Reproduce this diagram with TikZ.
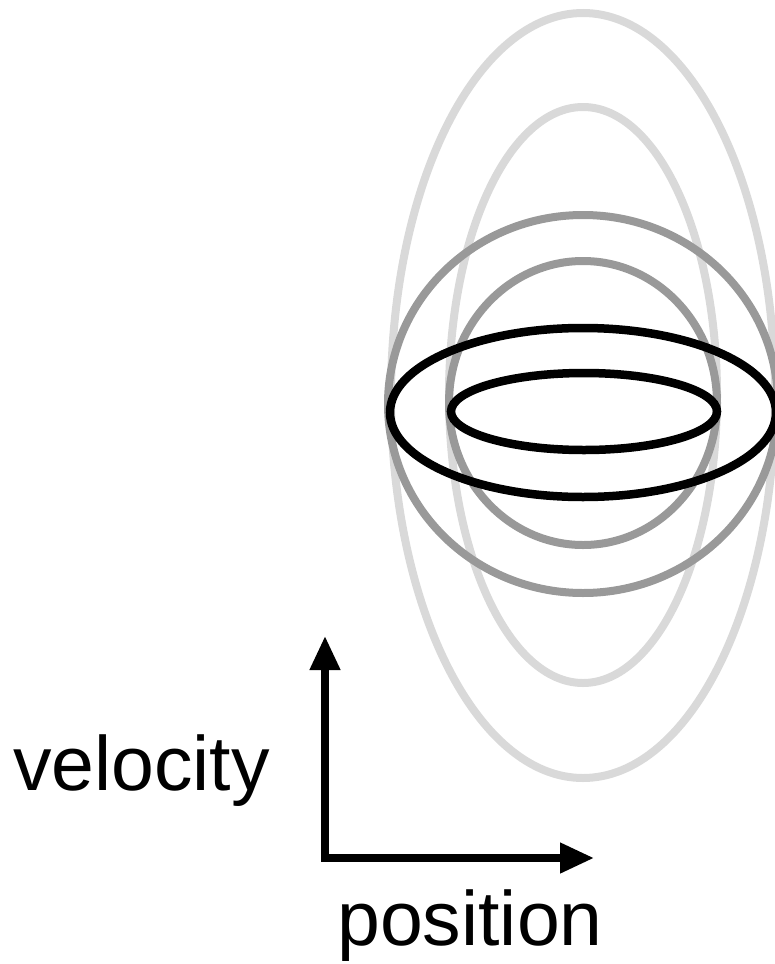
\documentclass[tikz,border=0pt]{standalone}
\usepackage{fontspec}
\setmainfont{Liberation Sans}
\usetikzlibrary{arrows.meta}

\definecolor{paleRing}{gray}{0.85}
\definecolor{midRing}{gray}{0.60}

\begin{document}
\begin{tikzpicture}[x=1pt, y=-1pt]
    \useasboundingbox (0,0) rectangle (775,964);

    % Light ellipses (tall)
    \draw[paleRing, line width=8pt] (583,395.5) ellipse (192 and 382.5);
    \draw[paleRing, line width=8pt] (583,395) ellipse (134 and 288);

    % Medium circles
    \draw[midRing, line width=8pt] (583,404) ellipse (195 and 189);
    \draw[midRing, line width=8pt] (583,403) ellipse (134 and 142);

    % Black ellipses (flat)
    \draw[black, line width=8.5pt] (583,412.5) ellipse (193 and 84.5);
    \draw[black, line width=8.5pt] (584,411.5) ellipse (133 and 38.5);

    % Axes
    \coordinate (origin) at (325,858);
    \coordinate (vtip) at (325,636);
    \coordinate (htip) at (594,858);
    \draw[line width=7.5pt, {Triangle[length=34pt,width=29pt]}-{Triangle[length=34pt,width=29pt]}]
        (vtip) -- (origin) -- (htip);

    % Axis labels
    \node[anchor=base east, inner sep=0pt, font=\fontsize{77}{80}\selectfont] (vlabel) at (270,790) {velocity};
    \node[anchor=base, inner sep=0pt, font=\fontsize{77}{80}\selectfont] (plabel) at (470,945) {position};
\end{tikzpicture}
\end{document}
